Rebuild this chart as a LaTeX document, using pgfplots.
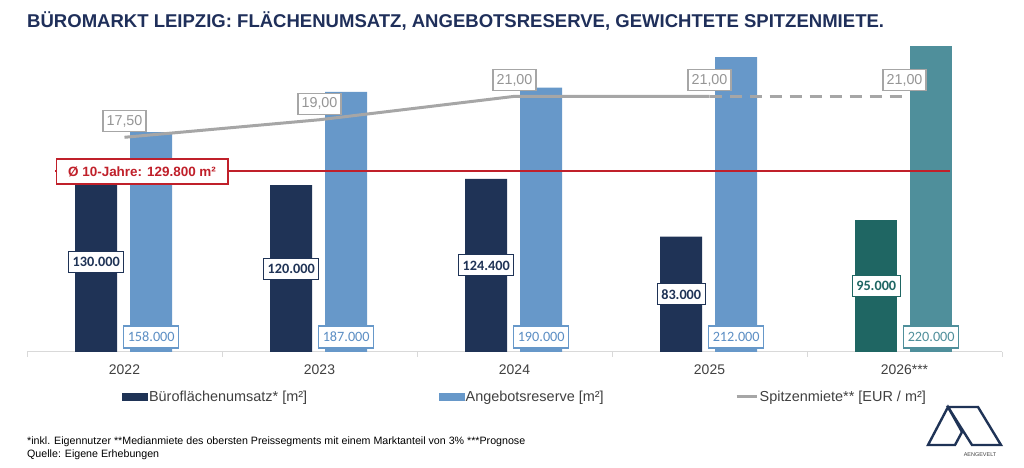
\documentclass[border=0pt]{standalone}
\usepackage{fontspec}
\setmainfont{Liberation Sans}
\newfontfamily\calibri{Carlito}
\usepackage{pgfplots}
\usepackage{pgfplotstable}
\pgfplotsset{compat=1.18}
\definecolor{navy}{HTML}{1F3356}
\definecolor{titlenavy}{HTML}{1F2F5A}
\definecolor{lightblue}{HTML}{6798C9}
\definecolor{lbtext}{HTML}{5B8EC4}
\definecolor{tealdark}{HTML}{1F6663}
\definecolor{teallight}{HTML}{4F8F9B}
\definecolor{linegray}{HTML}{A6A6A6}
\definecolor{lbltextgray}{HTML}{959595}
\definecolor{avgred}{HTML}{C0202A}
\definecolor{axisgray}{HTML}{D9D9D9}
\definecolor{labelgray}{HTML}{404040}

\pgfplotstableread{
x year umsatz angebot miete
0 2022 130000 158000 17.5
1 2023 120000 187000 19
2 2024 124400 190000 21
3 2025 83000 212000 21
4 2026 95000 220000 21
}\datatable

\pgfplotstableread{
x avg
-0.356 129800
4.233 129800
}\avgtable

\begin{document}
\begin{tikzpicture}
\path[use as bounding box] (0,0) rectangle (1024bp,468bp);
\begin{axis}[
  scale only axis, width=975bp, height=320bp,
  at={(27bp,116bp)}, anchor=south west,
  xmin=-0.5, xmax=4.5, ymin=0, ymax=230000,
  axis y line=none, axis x line*=bottom,
  x axis line style={draw=axisgray, line width=1bp, -},
  xtick={0,1,2,3,4}, xticklabels={2022,2023,2024,2025,2026***},
  major tick length=0pt,
  minor xtick={-0.5,0.5,1.5,2.5,3.5,4.5},
  minor tick length=5bp, tick align=outside,
  minor tick style={draw=axisgray, line width=1bp},
  xticklabel style={font=\fontsize{14}{16}\selectfont, text=labelgray, yshift=-9bp},
  clip=false,
  legend columns=3,
  legend style={draw=none, fill=none, inner sep=0pt,
    at={(axis description cs:0.0974,-0.1406)}, anchor=west,
    font=\fontsize{14.5}{16}\selectfont, text=labelgray,
    nodes={inner sep=1.5bp},
    /tikz/every even column/.append style={column sep=130bp},
    /tikz/every odd column/.append style={column sep=0bp}},
]
% bars 2022-2025
\addplot[ybar, bar width=0.2154, bar shift=0pt, fill=navy, draw=none, forget plot,
  restrict x to domain=-1:3.5] table[x expr=\thisrow{x}-0.145, y=umsatz]{\datatable};
\addplot[ybar, bar width=0.2154, bar shift=0pt, fill=lightblue, draw=none, forget plot,
  restrict x to domain=-1:3.6] table[x expr=\thisrow{x}+0.137, y=angebot]{\datatable};
% forecast 2026
\addplot[ybar, bar width=0.2154, bar shift=0pt, fill=tealdark, draw=none, forget plot,
  restrict x to domain=3.6:5] table[x expr=\thisrow{x}-0.145, y=umsatz]{\datatable};
\addplot[ybar, bar width=0.2154, bar shift=0pt, fill=teallight, draw=none, forget plot,
  restrict x to domain=3.7:5] table[x expr=\thisrow{x}+0.137, y=angebot]{\datatable};
% average line
\addplot[color=avgred, line width=2bp, mark=none, forget plot] table[x=x, y=avg]{\avgtable};
\node[draw=avgred, line width=1.2bp, fill=white, text=avgred, font=\bfseries\fontsize{13.5}{15}\selectfont,
  inner xsep=12bp, minimum height=25bp] at (axis cs:0.09,129800) {Ø 10-Jahre: 129.800 m²};
% dark labels
\addplot[draw=none, forget plot, restrict x to domain=-1:3.5, point meta=explicit,
  nodes near coords={\pgfmathprintnumber[fixed, precision=0, 1000 sep={.}, assume math mode=true]{\pgfplotspointmeta}},
  every node near coord/.style={anchor=center, draw=navy, line width=1bp, fill=white, text=navy,
    font=\calibri\bfseries\fontsize{14.3}{16}\selectfont, inner xsep=4bp, minimum height=21bp}]
  table[x expr=\thisrow{x}-0.145, y expr=\thisrow{umsatz}/2, meta=umsatz]{\datatable};
\addplot[draw=none, forget plot, restrict x to domain=3.6:5, point meta=explicit,
  nodes near coords={\pgfmathprintnumber[fixed, precision=0, 1000 sep={.}, assume math mode=true]{\pgfplotspointmeta}},
  every node near coord/.style={anchor=center, draw=tealdark, line width=1bp, fill=white, text=tealdark,
    font=\calibri\bfseries\fontsize{14.3}{16}\selectfont, inner xsep=4bp, minimum height=21bp}]
  table[x expr=\thisrow{x}-0.145, y expr=\thisrow{umsatz}/2, meta=umsatz]{\datatable};
% light labels
\addplot[draw=none, forget plot, restrict x to domain=-1:3.6, point meta=explicit,
  nodes near coords={\pgfmathprintnumber[fixed, precision=0, 1000 sep={.}, assume math mode=true]{\pgfplotspointmeta}},
  every node near coord/.style={anchor=center, draw=lightblue, line width=1.2bp, fill=white, text=lbtext,
    font=\calibri\fontsize{14.3}{16}\selectfont, inner xsep=4bp, minimum height=22bp}]
  table[x expr=\thisrow{x}+0.137, y expr=10800, meta=angebot]{\datatable};
\addplot[draw=none, forget plot, restrict x to domain=3.7:5, point meta=explicit,
  nodes near coords={\pgfmathprintnumber[fixed, precision=0, 1000 sep={.}, assume math mode=true]{\pgfplotspointmeta}},
  every node near coord/.style={anchor=center, draw=teallight, line width=1.2bp, fill=white, text=teallight,
    font=\calibri\fontsize{14.3}{16}\selectfont, inner xsep=4bp, minimum height=22bp}]
  table[x expr=\thisrow{x}+0.137, y expr=10800, meta=angebot]{\datatable};
% legend
\addlegendimage{legend image code/.code={\fill[navy] (0bp,-3.5bp) rectangle (25bp,3.5bp);}}
\addlegendentry{Büroflächenumsatz* [m²]}
\addlegendimage{legend image code/.code={\fill[lightblue] (0bp,-3.5bp) rectangle (25bp,3.5bp);}}
\addlegendentry{Angebotsreserve [m²]}
\addlegendimage{legend image code/.code={\draw[linegray, line width=3bp] (0bp,0bp) -- (20bp,0bp);}}
\addlegendentry{Spitzenmiete** [EUR / m²]}
\end{axis}

\begin{axis}[
  scale only axis, width=975bp, height=320bp,
  at={(27bp,116bp)}, anchor=south west,
  xmin=-0.5, xmax=4.5, ymin=-0.85, ymax=26.5,
  hide x axis, hide y axis, clip=false,
]
\addplot[draw=linegray, line width=3bp, restrict x to domain=-1:3] table[x=x, y=miete]{\datatable};
\addplot[draw=linegray, line width=3bp, dash pattern=on 12bp off 8bp, restrict x to domain=3:5] table[x=x, y=miete]{\datatable};
\addplot[draw=none, point meta=y,
  nodes near coords={\pgfmathprintnumber[fixed, fixed zerofill, precision=2, use comma, assume math mode=true]{\pgfplotspointmeta}},
  every node near coord/.style={anchor=south, yshift=5bp, draw=linegray, line width=1.2bp, fill=white, text=lbltextgray,
    font=\fontsize{14.4}{16}\selectfont, inner xsep=3.5bp, minimum height=21bp}]
  table[x=x, y=miete]{\datatable};
\end{axis}

% title
\node[anchor=base west, inner sep=0pt, text=titlenavy, font=\bfseries\fontsize{18.6}{20}\selectfont]
  at (27bp,440.5bp) {BÜROMARKT LEIPZIG: FLÄCHENUMSATZ, ANGEBOTSRESERVE, GEWICHTETE SPITZENMIETE.};
% footnotes
\node[anchor=base west, inner sep=0pt, text=black, font=\fontsize{10.7}{12}\selectfont]
  at (27bp,24bp) {*inkl. Eigennutzer **Medianmiete des obersten Preissegments mit einem Marktanteil von 3\% ***Prognose};
\node[anchor=base west, inner sep=0pt, text=black, font=\fontsize{10.7}{12}\selectfont]
  at (27bp,11bp) {Quelle: Eigene Erhebungen};
% logo
\draw[navy, line width=2.4bp, line join=miter] (928bp,23bp) -- (948bp,61bp) -- (962bp,36bp) -- (955bp,23bp) -- cycle;
\draw[navy, line width=2.4bp, line join=miter] (948bp,61bp) -- (978bp,61bp) -- (1001bp,23bp) -- (972bp,23bp) -- cycle;
\node[anchor=base, inner sep=0pt, text=labelgray, font=\fontsize{5.5}{6}\selectfont] at (980bp,12bp) {AENGEVELT};
\end{tikzpicture}
\end{document}
